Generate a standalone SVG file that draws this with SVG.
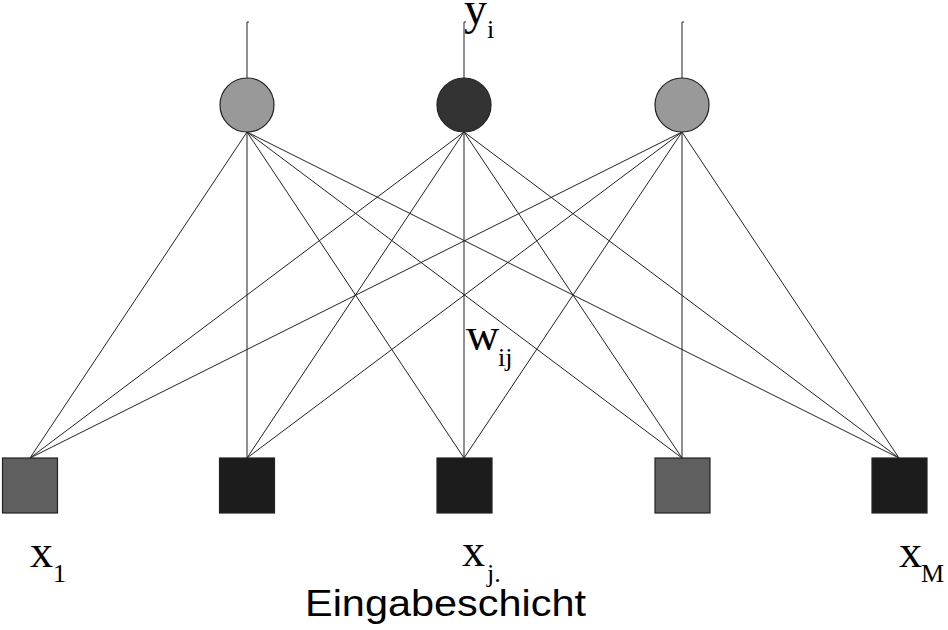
<svg xmlns="http://www.w3.org/2000/svg" width="948" height="630" viewBox="0 0 948 630">
<style>
.ln{stroke:#222;stroke-width:1;fill:none}
.nd{stroke:#222;stroke-width:1.2}
.lc{fill:#999}
.dc{fill:#333}
.ds{fill:#1c1c1c}
.gs{fill:#5f5f5f}
.sf{font-family:"Liberation Serif","Times New Roman",serif;fill:#000}
.big{font-size:46px}
.sub{font-size:26px}
.ss{font-family:"Liberation Sans",Arial,sans-serif;font-size:37px;fill:#000}
</style>
<rect width="948" height="630" fill="#fff"/>
<g id="connectors">
<path class="ln" d="M247,78V22h2M464,78V22h2M682,78V22h2"/>
<path class="ln" d="M247,132L30,458M247,132L247,458M247,132L464,458M247,132L682,458M247,132L899,458"/>
<path class="ln" d="M464,132L30,458M464,132L247,458M464,132L464,458M464,132L682,458M464,132L899,458"/>
<path class="ln" d="M682,132L30,458M682,132L247,458M682,132L464,458M682,132L682,458M682,132L899,458"/>
</g>
<g id="out1"><circle class="nd lc" cx="247" cy="105" r="27"/></g>
<g id="out2"><circle class="nd dc" cx="464" cy="105" r="27"/></g>
<g id="out3"><circle class="nd lc" cx="682" cy="105" r="27"/></g>
<g id="in1"><rect class="nd gs" x="2.5" y="458" width="55" height="55"/></g>
<g id="in2"><rect class="nd ds" x="219.5" y="458" width="55" height="55"/></g>
<g id="in3"><rect class="nd ds" x="437" y="458" width="55" height="55"/></g>
<g id="in4"><rect class="nd gs" x="655" y="458" width="55" height="55"/></g>
<g id="in5"><rect class="nd ds" x="872" y="458" width="55" height="55"/></g>
<g id="labels">
<text class="sf big" x="464" y="24">y</text><text class="sf sub" x="487" y="38">i</text>
<text class="sf big" x="466" y="350">w</text><text class="sf sub" x="498" y="366">ij</text>
<text class="sf big" x="30" y="567">x</text><text class="sf sub" x="53" y="582">1</text>
<text class="sf big" x="462" y="566">x</text><text class="sf sub" x="487" y="582">j.</text>
<text class="sf big" x="899" y="567">x</text><text class="sf sub" x="921" y="582">M</text>
<text class="ss" x="305" y="616" textLength="281" lengthAdjust="spacingAndGlyphs">Eingabeschicht</text>
</g>
</svg>
